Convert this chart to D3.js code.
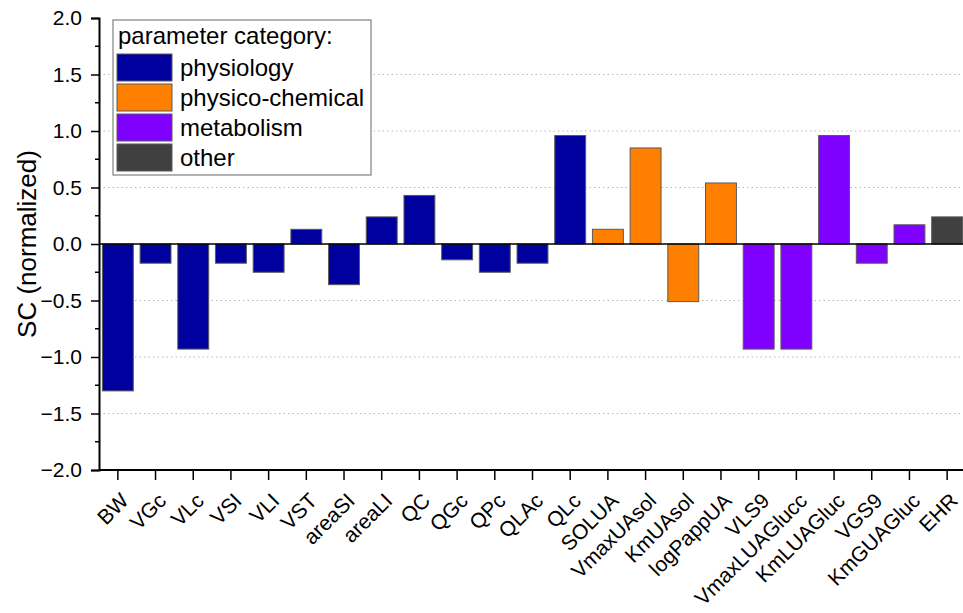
<!DOCTYPE html>
<html>
<head>
<meta charset="utf-8">
<script src="https://cdn.jsdelivr.net/npm/d3@7"></script>
<style>
  html, body { margin: 0; padding: 0; background: #fff; }
  svg { display: block; font-family: "Liberation Sans", Arial, sans-serif; }
</style>
</head>
<body>
<svg id="chart" width="963" height="613"></svg>
<script>
// Sensitivity coefficients per model parameter
const parameters = ["BW", "VGc", "VLc", "VSI", "VLI", "VST", "areaSI", "areaLI", "QC", "QGc", "QPc", "QLAc", "QLc",
  "SOLUA", "VmaxUAsol", "KmUAsol", "logPappUA",
  "VLS9", "VmaxLUAGlucc", "KmLUAGluc", "VGS9", "KmGUAGluc",
  "EHR"];
const scValues = [-1.30, -0.17, -0.93, -0.17, -0.25, 0.13, -0.36, 0.24, 0.43, -0.14, -0.25, -0.17, 0.96,
  0.13, 0.85, -0.51, 0.54,
  -0.93, -0.93, 0.96, -0.17, 0.17,
  0.24];
const parameterCategory = ["physiology", "physiology", "physiology", "physiology", "physiology", "physiology",
  "physiology", "physiology", "physiology", "physiology", "physiology", "physiology", "physiology",
  "physico-chemical", "physico-chemical", "physico-chemical", "physico-chemical",
  "metabolism", "metabolism", "metabolism", "metabolism", "metabolism",
  "other"];
const categories = ["physiology", "physico-chemical", "metabolism", "other"];
const categoryColors = ["#00009f", "#ff8000", "#8000ff", "#404040"];
const yTicks = [-2.0, -1.5, -1.0, -0.5, 0.0, 0.5, 1.0, 1.5, 2.0];
const yMinorTicks = d3.range(-1.75, 2.0, 0.5);

const svg = d3.select("#chart");
const plotLeft = 99, plotRight = 966, plotTop = 18, plotBottom = 470;

const x = d3.scaleBand().domain(parameters).range([plotLeft, plotRight]).paddingInner(0).paddingOuter(0);
const y = d3.scaleLinear().domain([-2, 2]).range([plotBottom, plotTop]);
const color = d3.scaleOrdinal().domain(categories).range(categoryColors);
const barW = x.bandwidth() * 0.82;

// dotted horizontal grid
svg.append("g").selectAll("line")
  .data(yTicks.filter(v => v !== 0 && Math.abs(v) < 2))
  .join("line")
  .attr("x1", plotLeft).attr("x2", 963)
  .attr("y1", d => y(d)).attr("y2", d => y(d))
  .attr("stroke", "#b8b8b8").attr("stroke-width", 1)
  .attr("stroke-dasharray", "1.5,3");

// bars
svg.append("g").selectAll("rect")
  .data(parameters)
  .join("rect")
  .attr("x", (d) => x(d) + (x.bandwidth() - barW) / 2)
  .attr("width", barW)
  .attr("y", (d, i) => y(Math.max(0, scValues[i])))
  .attr("height", (d, i) => Math.abs(y(scValues[i]) - y(0)))
  .attr("fill", (d, i) => color(parameterCategory[i]))
  .attr("stroke", "#5a5a5a").attr("stroke-width", 1);

// zero line
svg.append("line")
  .attr("x1", plotLeft).attr("x2", 963)
  .attr("y1", y(0)).attr("y2", y(0))
  .attr("stroke", "#000").attr("stroke-width", 1.6);

// y axis
const yAxis = svg.append("g")
  .attr("transform", `translate(${plotLeft},0)`)
  .call(d3.axisLeft(y).tickValues(yTicks).tickFormat(d3.format(".1f")).tickSizeOuter(0).tickSize(8).tickPadding(9));
yAxis.append("g").selectAll("line")
  .data(yMinorTicks)
  .join("line")
  .attr("x1", -4).attr("x2", 0)
  .attr("y1", d => y(d)).attr("y2", d => y(d))
  .attr("stroke", "#000").attr("stroke-width", 1.5);
yAxis.select(".domain").attr("stroke-width", 2);
yAxis.selectAll(".tick line").attr("stroke-width", 1.5);
yAxis.selectAll(".tick text")
  .attr("font-size", 21).attr("fill", "#000")
  .attr("font-family", "Liberation Sans, Arial, sans-serif");

// x axis
const xAxis = svg.append("g")
  .attr("transform", `translate(0,${plotBottom})`)
  .call(d3.axisBottom(x).tickSizeOuter(0).tickSize(10));
xAxis.select(".domain").attr("d", `M${plotLeft},0H963`).attr("stroke-width", 2);
xAxis.selectAll(".tick line").attr("stroke-width", 1.5);
xAxis.selectAll(".tick text")
  .attr("font-size", 21).attr("fill", "#000")
  .attr("font-family", "Liberation Sans, Arial, sans-serif")
  .attr("text-anchor", "end")
  .attr("dy", 0).attr("y", 0)
  .attr("transform", "translate(12,32) rotate(-45)");

// y axis title
svg.append("text")
  .attr("transform", `translate(36,${y(0)}) rotate(-90)`)
  .attr("text-anchor", "middle")
  .attr("font-size", 26)
  .text("SC (normalized)");

// legend
const lg = svg.append("g").attr("transform", "translate(113,20)");
lg.append("rect").attr("width", 258).attr("height", 155)
  .attr("fill", "#fff").attr("stroke", "#808080").attr("stroke-width", 1.2);
lg.append("text").attr("x", 5).attr("y", 24).attr("font-size", 24).text("parameter category:");
const items = lg.selectAll("g.item").data(categories).join("g")
  .attr("transform", (d, i) => `translate(4,${34 + i * 30})`);
items.append("rect").attr("width", 55).attr("height", 27)
  .attr("fill", d => color(d)).attr("stroke", "#5a5a5a").attr("stroke-width", 1);
items.append("text").attr("x", 63).attr("y", 22).attr("font-size", 24).text(d => d);
</script>
</body>
</html>
